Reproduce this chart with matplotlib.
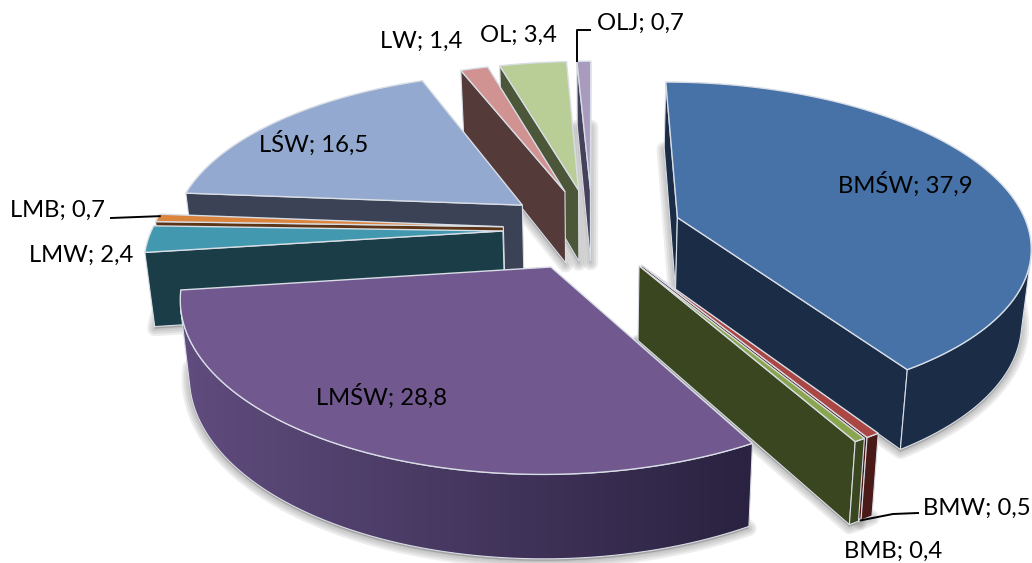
import numpy as np
import matplotlib
matplotlib.use('Agg')
import matplotlib.pyplot as plt
from matplotlib.patches import Polygon
from matplotlib.colors import to_rgb

plt.rcParams['font.family'] = ['Lato', 'DejaVu Sans']

# Data
names = ['BMŚW', 'BMW', 'BMB', 'LMŚW', 'LMW', 'LMB', 'LŚW', 'LW', 'OL', 'OLJ']
values = [37.9, 0.5, 0.4, 28.8, 2.4, 0.7, 16.5, 1.4, 3.4, 0.7]
top_colors = ['#4672A8', '#AA4643', '#89A54E', '#71588F', '#4198AF',
              '#DB843D', '#93A9CF', '#D19392', '#B9CD96', '#A99BBD']
wall_colors = ['#1A2C46', '#4A1A18', '#394620', '#604C7E', '#1B3D48',
               '#5C3517', '#3B4255', '#553A3A', '#4C5639', '#45415A']
wall_end_colors = ['#1A2C46', '#4A1A18', '#394620', '#2A2240', '#1B3D48',
                   '#5C3517', '#3B4255', '#553A3A', '#4C5639', '#45415A']
label_pos = [(905, 184), (977, 508), (893, 551), (381, 396), (81, 255),
             (58, 210), (314, 143), (421, 41), (518, 35), (640, 23)]

# Projection of the pie plane to pixels
cx, cy = 592.5, 229
scale_x, scale_y = 351, 160.6
persp = 0.16
explode = 0.255
wall_drop = 73
wall_persp = 0.11
wall_lean = 0.022
edge_color = '#D9DEE6'


def project(X, Y):
    w = 1 + persp * Y
    return np.column_stack([cx + scale_x * X / w, cy - scale_y * Y / w])


def drop(pts, Y):
    # lower rim of a wall, leaning slightly towards the pie axis
    out = pts.copy()
    out[:, 0] = cx + (pts[:, 0] - cx) * (1 - wall_lean)
    out[:, 1] = pts[:, 1] + wall_drop / (1 + wall_persp * Y)
    return out


def facing(poly):
    x, y = poly[:, 0], poly[:, 1]
    return np.sum(x * np.roll(y, -1) - np.roll(x, -1) * y) < 0


def build_wedges():
    total = sum(values)
    edges = np.radians(np.cumsum([0] + values) / total * 360)
    wedges = []
    for i in range(len(values)):
        t0, t1 = edges[i], edges[i + 1]
        mid = (t0 + t1) / 2
        ox, oy = explode * np.sin(mid), explode * np.cos(mid)
        n = max(2, int(np.degrees(t1 - t0) / 1.5))
        t = np.linspace(t0, t1, n)
        X, Y = ox + np.sin(t), oy + np.cos(t)
        rim = project(X, Y)
        apex = project(np.array([ox]), np.array([oy]))
        wedges.append(dict(i=i, oy=oy, rim=rim, rim_low=drop(rim, Y), apex=apex,
                           apex_low=drop(apex, np.array([oy]))))
    return wedges


def draw_outer_wall(ax, i, rim, low, z):
    vis = [k for k in range(len(rim) - 1)
           if facing(np.vstack([rim[k], rim[k + 1], low[k + 1], low[k]]))]
    if not vis:
        return
    a, b = vis[0], vis[-1] + 1
    outline = np.vstack([rim[a:b + 1], low[a:b + 1][::-1]])
    patch = Polygon(outline, closed=True, facecolor=wall_colors[i], edgecolor='none', zorder=z)
    ax.add_patch(patch)

    # left to right shading across the wall
    if wall_colors[i] != wall_end_colors[i]:
        grad = np.linspace(to_rgb(wall_colors[i]), to_rgb(wall_end_colors[i]), 128)[None, :, :]
        im = ax.imshow(grad, extent=[outline[:, 0].min(), outline[:, 0].max(),
                                     outline[:, 1].max(), outline[:, 1].min()],
                       aspect='auto', interpolation='bilinear', zorder=z + 0.05)
        im.set_clip_path(patch)

    ax.add_patch(Polygon(outline, closed=True, fill=False, edgecolor=edge_color,
                         lw=0.8, zorder=z + 0.2))


def draw_wedge(ax, wd, z):
    i = wd['i']
    rim, low, apex, apex_low = wd['rim'], wd['rim_low'], wd['apex'], wd['apex_low']

    # flat side walls, only when they face the viewer
    start = np.vstack([apex, rim[:1], low[:1], apex_low])
    end = np.vstack([rim[-1:], apex, apex_low, low[-1:]])
    for poly in (start, end):
        if facing(poly):
            ax.add_patch(Polygon(poly, closed=True, facecolor=wall_colors[i],
                                 edgecolor=edge_color, lw=0.8, zorder=z))

    draw_outer_wall(ax, i, rim, low, z + 0.1)

    # top face
    top = np.vstack([apex, rim])
    ax.add_patch(Polygon(top, closed=True, facecolor=top_colors[i],
                         edgecolor=edge_color, lw=1.0, zorder=z + 0.4))


fig = plt.figure(figsize=(10.32, 5.63), dpi=100)
ax = fig.add_axes([0, 0, 1, 1])
ax.axis('off')

wedges = build_wedges()

# soft shadow under every wedge
for wd in wedges:
    base = np.vstack([wd['apex_low'], wd['rim_low']]) + np.array([0, 2])
    for lw in (11, 8, 5, 2):
        ax.add_patch(Polygon(base, closed=True, facecolor='#808080', edgecolor='#808080',
                             lw=lw, alpha=0.14, joinstyle='round', zorder=1))

# back to front
for n, wd in enumerate(sorted(wedges, key=lambda w: -w['oy'])):
    draw_wedge(ax, wd, 2 + n)

# labels
for name, val, pos in zip(names, values, label_pos):
    txt = f"{name}; {str(val).replace('.', ',')}"
    ax.text(pos[0], pos[1], txt, ha='center', va='center', fontsize=17.2,
            color='black', zorder=50)

# leader lines for the small slices
by_name = {names[w['i']]: w for w in wedges}
olj_rim = by_name['OLJ']['rim']
lmb_rim = by_name['LMB']['rim']
bmw_low = by_name['BMW']['rim_low']
a = olj_rim[len(olj_rim) // 4]
ax.plot([a[0], a[0], a[0] + 13], [a[1], 30, 30], color='black', lw=1.4, zorder=49)
a = lmb_rim[len(lmb_rim) // 2]
ax.plot([111, a[0]], [218, a[1] + 2], color='black', lw=1.4, zorder=49)
a = bmw_low[len(bmw_low) // 2]
ax.plot([a[0], 893, 918], [a[1], 514, 513], color='black', lw=1.4, zorder=49)

ax.set_xlim(0, 1032)
ax.set_ylim(563, 0)

plt.savefig('out.png', dpi=100, facecolor='white')
